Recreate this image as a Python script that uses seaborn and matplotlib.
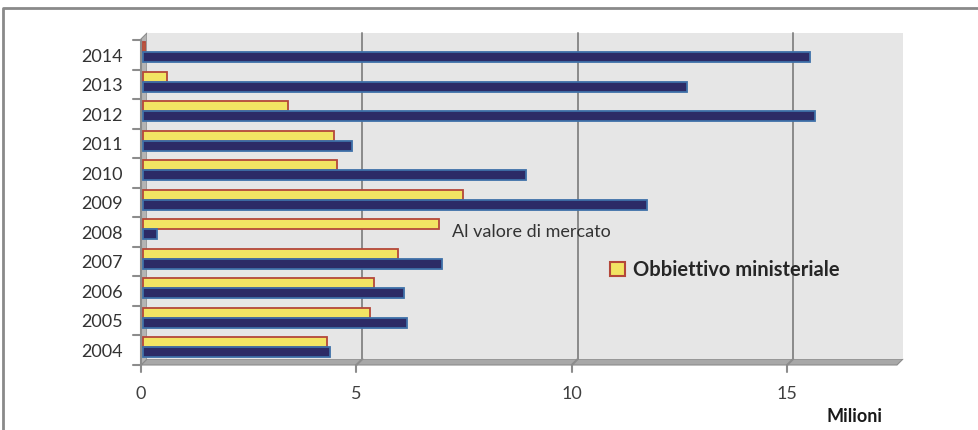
import numpy as np
import pandas as pd
import matplotlib
matplotlib.use("Agg")
import matplotlib.pyplot as plt
import seaborn as sns
from matplotlib.transforms import offset_copy, Affine2D, IdentityTransform
from matplotlib.patches import Polygon, Rectangle, Patch
from matplotlib.lines import Line2D

# --- data (milioni) ---
years = ["2014", "2013", "2012", "2011", "2010", "2009",
         "2008", "2007", "2006", "2005", "2004"]
mercato = [15.49, 12.63, 15.60, 4.86, 8.88, 11.70, 0.33, 6.93, 6.05, 6.12, 4.33]
obiettivo = [0.05, 0.56, 3.37, 4.44, 4.51, 7.44, 6.88, 5.91, 5.37, 5.26, 4.28]
x_ticks = [0, 5, 10, 15]
series_names = ["Obbiettivo ministeriale", "Al valore di mercato"]

df = pd.DataFrame({
    "Anno": years * 2,
    "Valore": obiettivo + mercato,
    "Serie": [series_names[0]] * len(years) + [series_names[1]] * len(years),
})

sns.set_theme(style="white")
plt.rcParams["font.family"] = ["Lato", "DejaVu Sans"]

W, H = 979, 430
fig = plt.figure(figsize=(W / 100, H / 100), dpi=100)
# pixel transform (origin top-left) for frame decorations
px = Affine2D().scale(1 / W, -1 / H).translate(0, 1) + fig.transFigure

ax = fig.add_axes([141 / W, 1 - 365 / H, 756 / W, (365 - 39) / H])
ax.set_facecolor("none")

yellow_face, yellow_edge = "#f2e463", "#b4473a"
blue_face, blue_edge = "#2c2b66", "#3e70a8"

sns.barplot(data=df, x="Valore", y="Anno", hue="Serie", order=years,
            hue_order=series_names, orient="h", width=0.68, dodge=True,
            palette=[yellow_face, blue_face], legend=False, ax=ax,
            saturation=1, zorder=3)

xmax = 17.55
ybot, ytop = 10.5, -0.55
ax.set_xlim(0, xmax)
ax.set_ylim(ybot, ytop)

# bar styling, bars sit a little behind the front plane
bar_t = offset_copy(ax.transData, fig=fig, x=2, y=3, units="dots")
n = len(years)
for i, p in enumerate(ax.patches[: 2 * n]):
    is_yellow = i < n
    p.set_edgecolor(yellow_edge if is_yellow else blue_edge)
    p.set_linewidth(1.3)
    p.set_transform(bar_t)
    p.set_zorder(3)

# back wall, left wall and floor
back_ax = offset_copy(ax.transAxes, fig=fig, x=6, y=6, units="dots")
back_data = offset_copy(ax.transData, fig=fig, x=6, y=6, units="dots")
ax.add_patch(Rectangle((0, 0), 1, 1, transform=back_ax, facecolor="#e6e6e6",
                       edgecolor="none", zorder=0, clip_on=False))
fig.add_artist(Polygon([(141, 365), (897, 365), (903, 359), (147, 359)],
                       closed=True, transform=px, facecolor="#a8a8a8",
                       edgecolor="#8c8c8c", linewidth=0.8, zorder=-1))
fig.add_artist(Polygon([(141, 39), (147, 33), (147, 359), (141, 365)],
                       closed=True, transform=px, facecolor="#b4b4b4",
                       edgecolor="#8c8c8c", linewidth=0.8, zorder=-1))

tick_kw = dict(transform=IdentityTransform(), color="#8c8c8c", linewidth=1.5,
               zorder=2, clip_on=False)

# gridlines on the back wall, continued across the floor to the front ticks
for t in x_ticks:
    fx, fy = ax.transData.transform((t, ybot))
    if t > 0:
        ax.plot([t, t], [ybot, ytop], transform=back_data, color="#8a8a8a",
                linewidth=1.4, zorder=1, clip_on=False)
        ax.add_line(Line2D([fx, fx + 6], [fy, fy + 6], **tick_kw))
    # tick mark below the front edge
    ax.add_line(Line2D([fx, fx], [fy, fy - 7], **tick_kw))

# category separators on the left
for b in np.arange(-0.5, len(years)):
    fx, fy = ax.transData.transform((0, b))
    ax.add_line(Line2D([fx - 8, fx], [fy, fy], **tick_kw))
fx0, fy0 = ax.transData.transform((0, ybot))
fx1, fy1 = ax.transData.transform((0, -0.5))
ax.add_line(Line2D([fx0, fx1], [fy0, fy1], **tick_kw))

# axes styling
for s in ax.spines.values():
    s.set_visible(False)
ax.set_xticks(x_ticks)
ax.set_xticklabels([str(t) for t in x_ticks], fontsize=13, color="#404040")
ax.tick_params(axis="x", length=7, width=0, pad=8)
ax.set_yticks(range(n))
ax.set_yticklabels(years, fontsize=13, color="#333333")
ax.tick_params(axis="y", length=0, pad=13)
ax.set_xlabel("")
ax.set_ylabel("")

# series labels
ax.text(452 / W, 1 - 232 / H, series_names[1], transform=fig.transFigure,
        fontsize=13, color="#333333", va="center", ha="left")
ax.legend(handles=[Patch(facecolor=yellow_face, edgecolor=yellow_edge,
                         linewidth=1.5, label=series_names[0])],
          loc="center left", bbox_to_anchor=(592 / W, 1 - 270 / H),
          bbox_transform=fig.transFigure, frameon=False, handlelength=0.75,
          handleheight=0.75, handletextpad=0.4,
          prop={"weight": "bold", "size": 14.5})

fig.text(855 / W, 1 - 417 / H, "Milioni", fontsize=13, fontweight="bold",
         color="#1a1a1a", ha="center", va="center")

# outer frame
fig.add_artist(Line2D([3, 3, W], [H, 8, 8], transform=px, color="#8a8a8a",
                      linewidth=2))

fig.savefig("out.png", dpi=100)
